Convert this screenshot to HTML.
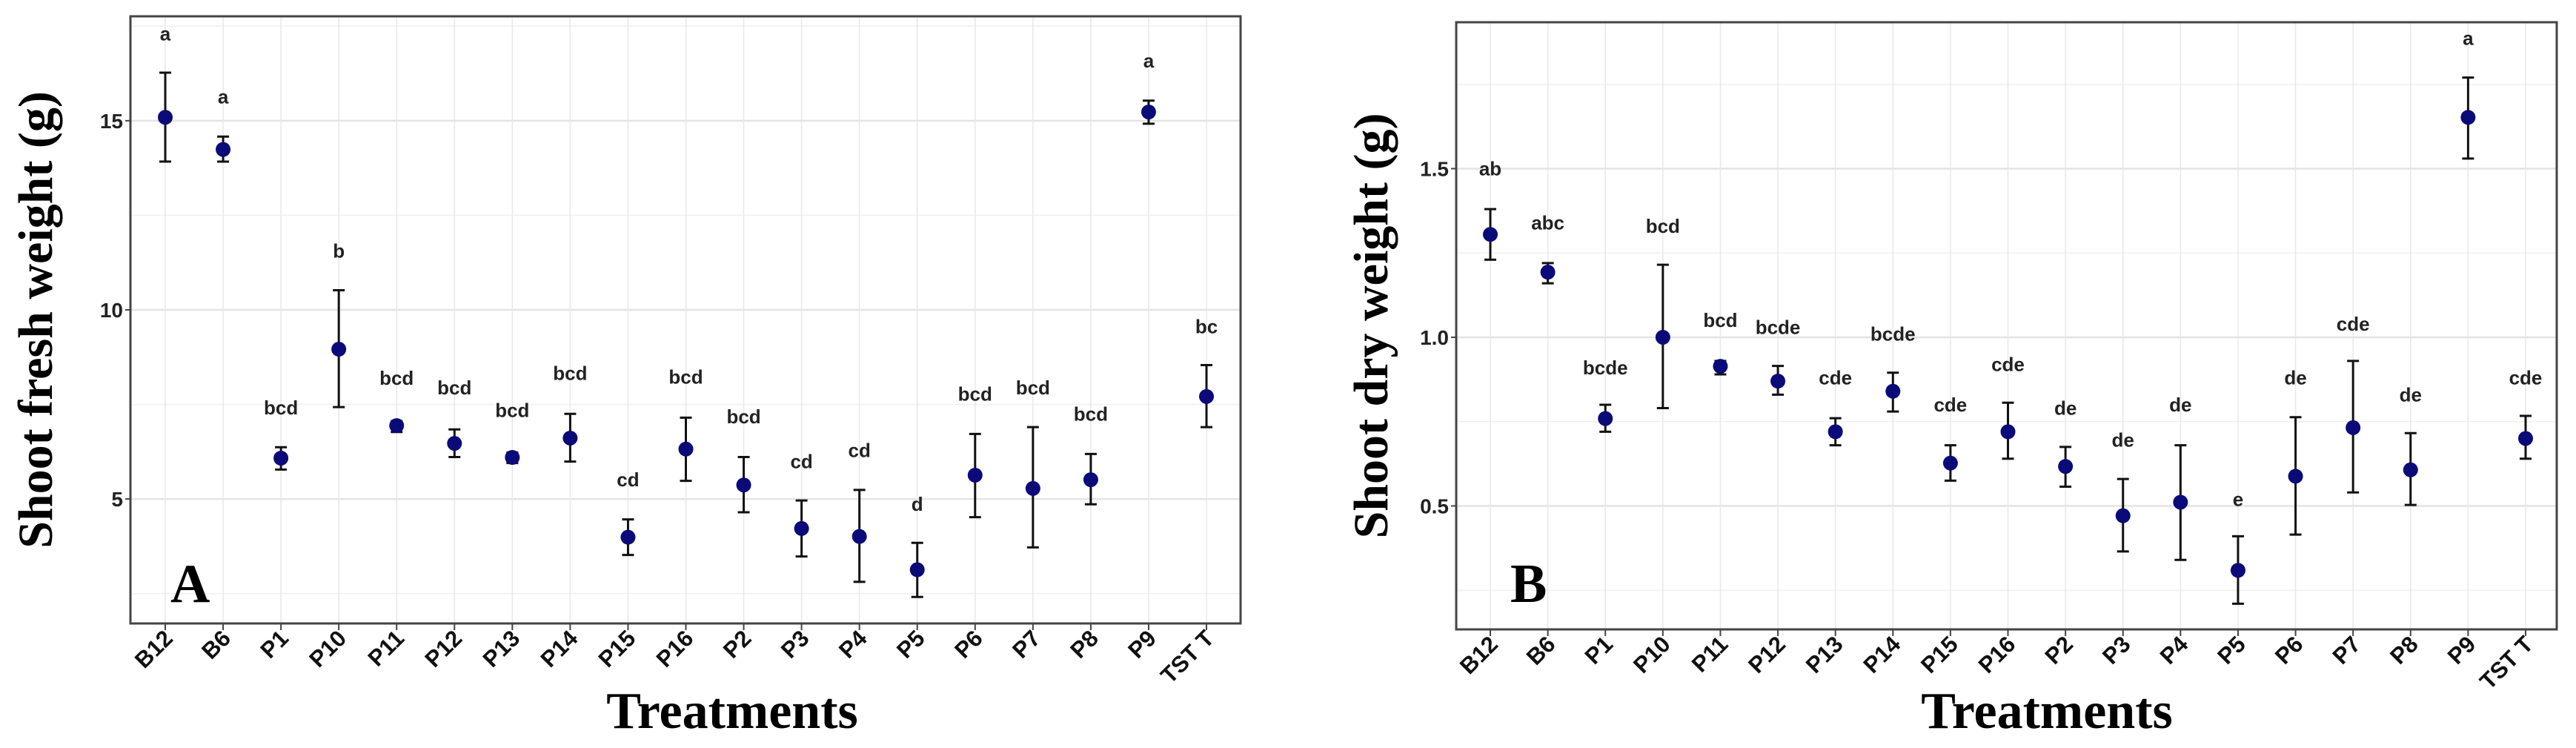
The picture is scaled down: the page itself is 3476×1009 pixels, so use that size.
<!DOCTYPE html>
<html><head><meta charset="utf-8"><style>
html,body{margin:0;padding:0;background:#fff;}
svg{display:block;}
</style></head><body>
<svg id="fig" width="3476" height="1009" viewBox="0 0 3476 1009" xmlns="http://www.w3.org/2000/svg"></svg>
<script>
const categories = ["B12","B6","P1","P10","P11","P12","P13","P14","P15","P16","P2","P3","P4","P5","P6","P7","P8","P9","TST T"];
// Panel A: shoot fresh weight
const freshMean = [15.09,14.24,6.08,8.96,6.94,6.47,6.10,6.61,3.99,6.32,5.37,4.22,4.01,3.13,5.63,5.28,5.51,15.23,7.71];
const freshHi   = [16.27,14.58,6.37,10.52,7.06,6.84,6.23,7.25,4.46,7.15,6.11,4.96,5.24,3.84,6.72,6.90,6.19,15.53,8.54];
const freshLo   = [13.92,13.92,5.78,7.43,6.77,6.11,5.95,5.99,3.52,5.48,4.65,3.48,2.81,2.41,4.52,3.72,4.86,14.92,6.90];
const freshLetters = ["a","a","bcd","b","bcd","bcd","bcd","bcd","cd","bcd","bcd","cd","cd","d","bcd","bcd","bcd","a","bc"];
const freshLetterY = [17.30,15.63,7.41,11.56,8.20,7.94,7.34,8.32,5.51,8.23,7.18,5.99,6.29,4.87,7.78,7.94,7.25,16.58,9.56];
const freshTicks = [5,10,15];
const freshMinor = [2.5,7.5,12.5,17.5];
// Panel B: shoot dry weight
const dryMean = [1.305,1.193,0.759,1.0,0.914,0.87,0.72,0.84,0.627,0.72,0.617,0.471,0.511,0.309,0.588,0.732,0.607,1.652,0.70];
const dryHi   = [1.38,1.22,0.80,1.215,0.93,0.915,0.76,0.895,0.68,0.806,0.675,0.58,0.68,0.41,0.763,0.93,0.716,1.77,0.767];
const dryLo   = [1.23,1.16,0.72,0.79,0.89,0.83,0.68,0.78,0.575,0.64,0.557,0.365,0.34,0.21,0.415,0.54,0.503,1.53,0.64];
const dryLetters = ["ab","abc","bcde","bcd","bcd","bcde","cde","bcde","cde","cde","de","de","de","e","de","cde","de","a","cde"];
const dryLetterY = [1.50,1.34,0.91,1.33,1.05,1.03,0.88,1.01,0.80,0.92,0.79,0.695,0.80,0.52,0.88,1.04,0.83,1.887,0.88];
const dryTicks = [0.5,1.0,1.5];
const dryMinor = [0.25,0.75,1.25,1.75];

const NS="http://www.w3.org/2000/svg";
const svg=document.getElementById('fig');
function mk(tag,attrs,parent){const e=document.createElementNS(NS,tag);for(const k in attrs)e.setAttribute(k,attrs[k]);(parent||svg).appendChild(e);return e;}

function panel(p){
  const g=mk('g',{});
  
  
  const yS=v=>p.top+(p.ymax-v)/(p.ymax-p.ymin)*(p.bottom-p.top);
  const step=(p.x1-p.x0)/(categories.length-1);
  const xS=i=>p.x0+i*step;
  // grid
  p.minor.forEach(v=>{const y=yS(v);if(y>p.top&&y<p.bottom){const l=mk('line',{x1:p.left,x2:p.right,y1:y,y2:y,stroke:'#f0f0f0','stroke-width':1.5},g);}});
  p.ticks.forEach(v=>{const y=yS(v);const l=mk('line',{x1:p.left,x2:p.right,y1:y,y2:y,stroke:'#e4e4e4','stroke-width':2.5},g);});
  categories.forEach((c,i)=>{const l=mk('line',{x1:xS(i),x2:xS(i),y1:p.top,y2:p.bottom,stroke:'#e8e8e8','stroke-width':1.5},g);});
  // frame
  const fr=mk('rect',{x:p.left,y:p.top,width:p.right-p.left,height:p.bottom-p.top,fill:'none',stroke:'#444','stroke-width':3},g);
  
  // y ticks
  p.ticks.forEach((v,i)=>{const y=yS(v);
    mk('line',{x1:p.left-7,x2:p.left,y1:y,y2:y,stroke:'#444','stroke-width':2},g);
    const t=mk('text',{x:p.left-10,y:y+10,'text-anchor':'end','font-family':'Liberation Sans, sans-serif','font-weight':'bold','font-size':28,fill:'#222'},g);
    t.textContent=p.tickLabels[i];
    });
  // x ticks & labels
  categories.forEach((c,i)=>{const x=xS(i);
    mk('line',{x1:x,x2:x,y1:p.bottom,y2:p.bottom+9,stroke:'#444','stroke-width':2},g);
    const t=mk('text',{x:0,y:0,transform:`translate(${x+12},${p.bottom+22}) rotate(-45)`,'text-anchor':'end','font-family':'Liberation Sans, sans-serif','font-weight':'bold','font-size':31,fill:'#111'},g);
    t.textContent=c;
    });
  // series
  categories.forEach((c,i)=>{const x=xS(i);
    const e=mk('g',{},g);
    
    mk('line',{x1:x,x2:x,y1:yS(p.hi[i]),y2:yS(p.lo[i]),stroke:'#111','stroke-width':3},e);
    mk('line',{x1:x-8,x2:x+8,y1:yS(p.hi[i]),y2:yS(p.hi[i]),stroke:'#111','stroke-width':3},e);
    mk('line',{x1:x-8,x2:x+8,y1:yS(p.lo[i]),y2:yS(p.lo[i]),stroke:'#111','stroke-width':3},e);
    const pt=mk('circle',{cx:x,cy:yS(p.mean[i]),r:10,fill:'#0a0a78'},g);
    
    const lt=mk('text',{x:x,y:yS(p.ly[i])+9,'text-anchor':'middle','font-family':'Liberation Sans, sans-serif','font-weight':'bold','font-size':26,fill:'#222'},g);
    lt.textContent=p.letters[i];
    
  });
  // titles
  const yt=mk('text',{x:0,y:0,transform:`translate(${p.ytx},${(p.top+p.bottom)/2}) rotate(-90)`,'text-anchor':'middle','font-family':'Liberation Serif, serif','font-weight':'bold','font-size':66,fill:'#000'},g);
  yt.textContent=p.ytitle;
  const xt=mk('text',{x:p.xtx,y:982,'text-anchor':'middle','font-family':'Liberation Serif, serif','font-weight':'bold','font-size':70,fill:'#000'},g);
  xt.textContent='Treatments';
  const pl=mk('text',{x:p.plx,y:812,'font-family':'Liberation Serif, serif','font-weight':'bold','font-size':74,fill:'#000'},g);
  pl.textContent=p.panelLabel;
}

panel({name:'panel-a-fresh-weight',left:176,right:1674,top:22,bottom:841,ymin:1.71,ymax:17.76,x0:223,x1:1628,
  ticks:freshTicks,tickLabels:['5','10','15'],minor:freshMinor,mean:freshMean,hi:freshHi,lo:freshLo,letters:freshLetters,ly:freshLetterY,
  ytitle:'Shoot fresh weight (g)',ytx:70,xtx:988,panelLabel:'A',plx:230});
panel({name:'panel-b-dry-weight',left:1965,right:3450,top:30,bottom:849,ymin:0.134,ymax:1.934,x0:2011,x1:3408,
  ticks:dryTicks,tickLabels:['0.5','1.0','1.5'],minor:dryMinor,mean:dryMean,hi:dryHi,lo:dryLo,letters:dryLetters,ly:dryLetterY,
  ytitle:'Shoot dry weight (g)',ytx:1872,xtx:2762,panelLabel:'B',plx:2038});
</script>
</body></html>
